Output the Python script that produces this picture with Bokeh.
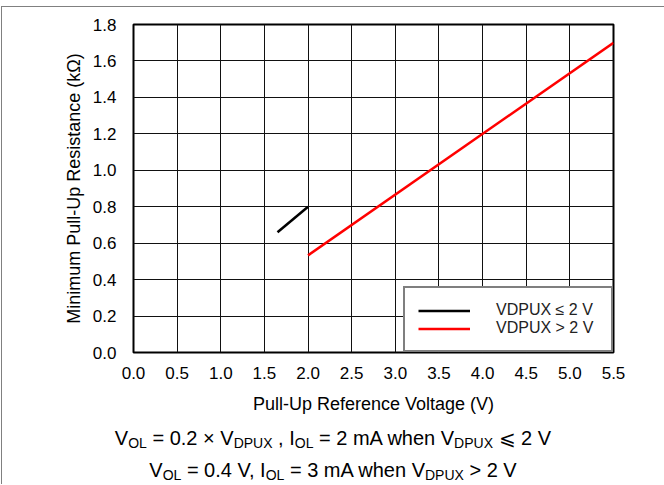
from bokeh.plotting import figure
from bokeh.models import Legend, LegendItem, Div, Range1d
from bokeh.layouts import column
from bokeh.embed import file_html
from bokeh.resources import INLINE

# Data
x_low = [1.65, 2.0]
r_low = [0.66, 0.80]
x_high = [2.0, 5.5]
r_high = [0.533, 1.70]

x_ticks = [0.0, 0.5, 1.0, 1.5, 2.0, 2.5, 3.0, 3.5, 4.0, 4.5, 5.0, 5.5]
x_tick_labels = ["0.0", "0.5", "1.0", "1.5", "2.0", "2.5", "3.0", "3.5", "4.0", "4.5", "5.0", "5.5"]
y_ticks = [0.0, 0.2, 0.4, 0.6, 0.8, 1.0, 1.2, 1.4, 1.6, 1.8]
y_tick_labels = ["0.0", "0.2", "0.4", "0.6", "0.8", "1.0", "1.2", "1.4", "1.6", "1.8"]

legend_labels = ["VDPUX \u2264 2 V", "VDPUX > 2 V"]
x_title = "Pull-Up Reference Voltage (V)"
y_title = "Minimum Pull-Up Resistance (k\u03a9)"

FONT = "Liberation Sans"

p = figure(width=662, height=415, output_backend="svg", toolbar_location=None,
           x_range=Range1d(0, 5.5), y_range=Range1d(0, 1.8),
           min_border_left=131, min_border_right=51, min_border_top=17,
           min_border_bottom=70, background_fill_color="white",
           border_fill_color="white")

p.xaxis.ticker = x_ticks
p.yaxis.ticker = y_ticks
p.xaxis.major_label_overrides = {t: l for t, l in zip(x_ticks, x_tick_labels)}
p.yaxis.major_label_overrides = {t: l for t, l in zip(y_ticks, y_tick_labels)}
p.xgrid.ticker = x_ticks
p.ygrid.ticker = y_ticks
for g in (p.xgrid, p.ygrid):
    g.grid_line_color = "#111111"
    g.grid_line_alpha = 1.0
    g.grid_line_width = 1

p.outline_line_color = "black"
p.outline_line_width = 2
p.outline_line_alpha = 1.0

for ax in (p.xaxis, p.yaxis):
    ax.axis_line_color = None
    ax.major_tick_line_color = None
    ax.minor_tick_line_color = None
    ax.major_tick_out = 0
    ax.major_tick_in = 0
    ax.major_label_text_font = FONT
    ax.major_label_text_font_size = "17px"
    ax.major_label_text_color = "black"
    ax.axis_label_text_font = FONT
    ax.axis_label_text_font_size = "18px"
    ax.axis_label_text_font_style = "normal"
    ax.axis_label_text_color = "black"

p.xaxis.axis_label = x_title
p.yaxis.axis_label = y_title
p.xaxis.major_label_standoff = 14
p.yaxis.major_label_standoff = 17
p.xaxis.axis_label_standoff = 12
p.yaxis.axis_label_standoff = 6

r1 = p.line(x_low, r_low, line_color="black", line_width=2.5)
r2 = p.line(x_high, r_high, line_color="#ff0000", line_width=2.5)

legend = Legend(items=[LegendItem(label=legend_labels[0], renderers=[r1]),
                       LegendItem(label=legend_labels[1], renderers=[r2])],
                location="bottom_right", margin=0, padding=13, spacing=-3,
                glyph_width=52, glyph_height=17, label_height=17,
                label_standoff=26, label_width=102,
                label_text_font=FONT, label_text_font_size="16px",
                label_text_color="#222222",
                border_line_color="black", border_line_width=2,
                background_fill_color="white", background_fill_alpha=1.0)
p.add_layout(legend)

sub = '<span style="font-size:14px;vertical-align:-3px;line-height:0">{}</span>'
line1 = ("V" + sub.format("OL") + " = 0.2 \u00d7 V" + sub.format("DPUX") + " , I" + sub.format("OL")
         + " = 2 mA when V" + sub.format("DPUX") + " \u2a7d 2 V")
line2 = ("V" + sub.format("OL") + " = 0.4 V, I" + sub.format("OL") + " = 3 mA when V"
         + sub.format("DPUX") + " &gt; 2 V")
html = ('<div style="width:662px;text-align:center;font-family:\'Liberation Sans\',Arial,sans-serif;'
        'font-size:20px;line-height:32px;color:#000;margin:0;padding:0;position:relative;top:0px">'
        + line1 + '<br>' + line2 + '</div>')
footer = Div(text=html, width=662, height=62, margin=0)

layout = column(p, footer, spacing=0, margin=(6, 0, 0, 1),
                styles={"border-top": "1px solid #808080", "border-left": "1px solid #808080"})
open("out.html", "w").write(file_html(layout, INLINE))
